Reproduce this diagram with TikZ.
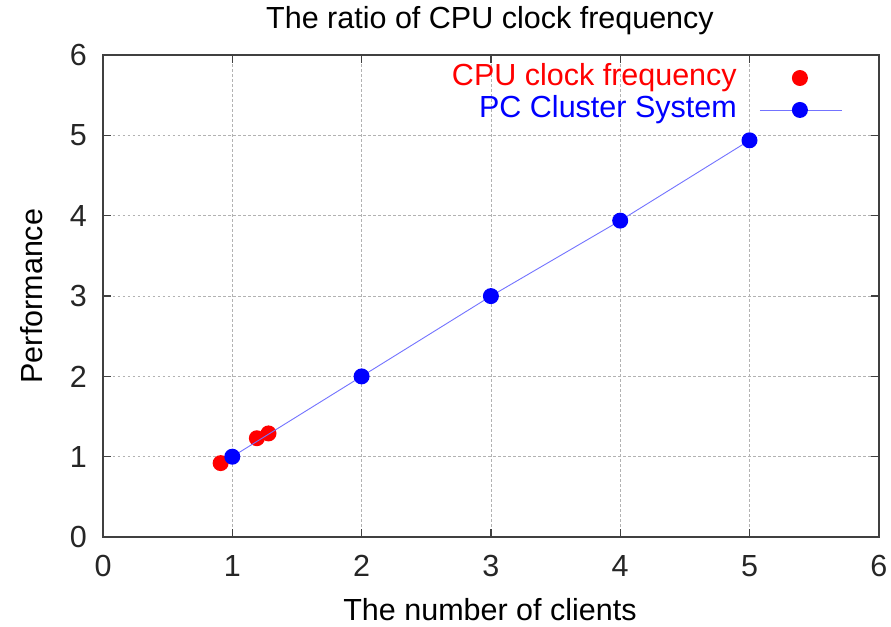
\documentclass[tikz,border=0pt]{standalone}
\usepackage{fontspec}
\setmainfont{Liberation Sans}
\begin{document}
\begin{tikzpicture}[x=129.3pt,y=80.3pt,
  every node/.style={font=\fontsize{30.5}{34}\selectfont},
  gridline/.style={gray!60,line width=0.8pt,dash pattern=on 2.5pt off 2.5pt},
  frame/.style={black!75,line width=1.8pt},
  tick/.style={black!75,line width=1.2pt},
  reddot/.style={circle,fill=red,inner sep=0pt,minimum size=16pt},
  bluedot/.style={circle,fill=blue,inner sep=0pt,minimum size=16pt},
  blueline/.style={blue!55,line width=0.9pt},
  ticklabel/.style={inner sep=0pt,text=black!85}]
  \useasboundingbox[fill=white] (-0.7966,-1.1208) rectangle (6.0944,6.6874);
  % grid
  \foreach \i in {1,...,5} {
    \draw[gridline] (\i,0) -- (\i,6);
    \draw[gridline] (0,\i) -- (6,\i);
  }
  % ticks on all four sides
  \foreach \i in {1,...,5} {
    \draw[tick] (\i,0) -- ++(0,0.1);
    \draw[tick] (\i,6) -- ++(0,-0.1);
    \draw[tick] (0,\i) -- ++(0.06,0);
    \draw[tick] (6,\i) -- ++(-0.06,0);
  }
  \draw[frame] (0,0) rectangle (6,6);
  % tick labels
  \foreach \i in {0,...,6} {
    \node[ticklabel] (xl\i) at (\i,-0.36) {\i};
    \node[ticklabel] (yl\i) at (-0.19,\i) {\i};
  }
  % titles
  \node (title) at (2.993,6.43) {The ratio of CPU clock frequency};
  \node (xlabel) at (2.993,-0.91) {The number of clients};
  \node[rotate=90] (ylabel) at (-0.549,3.0) {Performance};
  % CPU clock frequency
  \node[reddot] (c1) at (0.91,0.92) {};
  \node[reddot] (c2) at (1.19,1.23) {};
  \node[reddot] (c3) at (1.28,1.29) {};
  % PC Cluster System
  \coordinate (p1) at (1,1);
  \coordinate (p2) at (2,2);
  \coordinate (p3) at (3,3);
  \coordinate (p4) at (4,3.94);
  \coordinate (p5) at (5,4.94);
  \draw[blueline] (p1) -- (p2) -- (p3) -- (p4) -- (p5);
  \foreach \p in {1,...,5} \node[bluedot] (b\p) at (p\p) {};
  % legend
  \node[anchor=east,text=red,inner sep=0pt] (lcpu) at (4.903,5.716) {CPU clock frequency};
  \node[reddot] (lcpudot) at (5.39,5.716) {};
  \node[anchor=east,text=blue,inner sep=0pt] (lpc) at (4.903,5.318) {PC Cluster System};
  \coordinate (lpcl) at (5.081,5.318);
  \coordinate (lpcr) at (5.715,5.318);
  \draw[blueline] (lpcl) -- (lpcr);
  \node[bluedot] (lpcdot) at (5.39,5.318) {};
\end{tikzpicture}
\end{document}
